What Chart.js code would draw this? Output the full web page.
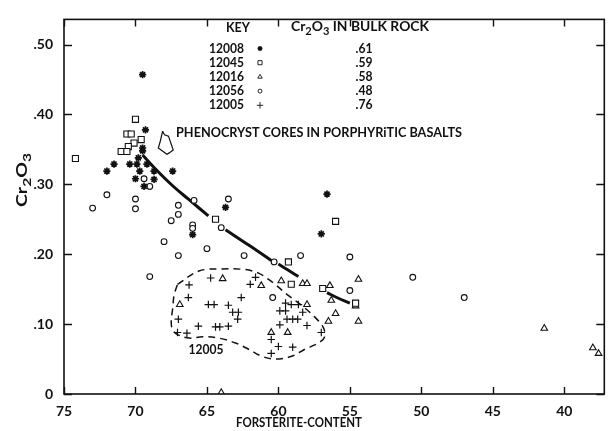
<!DOCTYPE html>
<html>
<head>
<meta charset="utf-8">
<script src="https://cdn.jsdelivr.net/npm/chart.js@4/dist/chart.umd.min.js"></script>
<style>
  html, body { margin: 0; padding: 0; background: #fff; }
  #wrap { width: 610px; height: 431px; }
</style>
</head>
<body>
<div id="wrap"><canvas id="olivine"></canvas></div>
<script>
/* Cr2O3 in olivine vs forsterite content, Apollo 12 basalts.
   Values. */

const xTickValues = [75, 70, 65, 60, 55, 50, 45, 40];
const yTickValues = [0, 0.1, 0.2, 0.3, 0.4, 0.5];

const samples = ['12008', '12045', '12016', '12056', '12005'];
const bulkCr2O3 = ['.61', '.59', '.58', '.48', '.76'];

// 12008 (stars)
const fo12008 = [69.5, 69.3, 69.5, 69.5, 69.8, 71.5, 70.4, 69.9, 69.2, 72.0, 69.7, 68.7, 67.4, 70.0, 68.7, 69.4, 56.6, 63.7, 57.0, 66.0];
const cr12008 = [.457, .378, .352, .348, .338, .329, .329, .329, .329, .319, .319, .319, .319, .308, .307, .297, .286, .267, .229, .228];

// 12045 (squares)
const fo12045 = [70.0, 70.6, 70.3, 69.6, 70.1, 70.5, 71.0, 70.6, 74.2, 64.4, 56.0, 59.3, 59.1, 56.9, 54.6];
const cr12045 = [.393, .372, .372, .364, .359, .354, .347, .347, .337, .250, .247, .189, .157, .151, .130];

// 12016 (triangles)
const fo12016 = [63.9, 61.2, 59.8, 58.3, 58.0, 56.4, 54.4, 56.3, 54.6, 56.0, 56.5, 54.4, 66.9, 60.5, 59.35, 58.0, 64.0, 41.4, 38.0, 37.6];
const cr12016 = [.165, .155, .162, .158, .158, .155, .164, .134, .126, .115, .104, .104, .128, .088, .088, .128, .002, .094, .066, .058];

// 12056 (circles)
const fo12056 = [69.4, 69.0, 72.0, 73.0, 70.0, 70.0, 65.9, 63.5, 67.0, 67.0, 67.5, 66.0, 66.0, 64.0, 68.0, 65.0, 67.0, 62.4, 69.0, 60.3, 58.45, 55.0, 55.0, 50.6, 47.0, 60.4];
const cr12056 = [.308, .297, .285, .266, .279, .265, .277, .279, .270, .257, .248, .242, .237, .238, .218, .208, .198, .198, .168, .189, .198, .196, .148, .167, .138, .138];

// 12005 (crosses)
const fo12005 = [64.74, 66.25, 61.97, 61.6, 66.3, 64.9, 64.5, 63.5, 62.6, 63.2, 62.8, 62.85, 67.0, 65.6, 64.4, 64.1, 63.5, 67.06, 66.4,
                 59.5, 59.1, 58.6, 59.9, 59.5, 58.3, 59.4, 59.0, 58.65, 59.9, 58.0, 57.0, 60.5, 60.0, 59.0, 60.5];
const cr12005 = [.166, .156, .157, .167, .138, .128, .128, .127, .138, .117, .117, .107, .107, .097, .096, .096, .097, .088, .087,
                 .130, .128, .128, .119, .119, .117, .107, .107, .107, .099, .098, .088, .078, .068, .067, .058];

// heavy trend line (null = break in the drawn line)
const trendFo = [69.5, 68.6, 67.4, 66.25, 64.9, 64.3, 63.7, 62.0, 60.5, 60.3, 60.0, 59.3, 58.6, 57.6, 56.6, 55.8, 55.0];
const trendCr = [.342, .322, .298, .278, .255, null, .235, .212, .191, null, .186, .177, .168, null, .145, .137, .130];

// dashed outline round the 12005 field
const fieldFo = [67.06, 65.56, 63.94, 62.31, 61.39, 60.69, 60.12, 59.31, 58.38, 57.45, 56.88, 56.76, 57.2, 58.15, 59.07, 60.23,
                 61.16, 62.08, 63.0, 64.17, 65.3, 66.25, 67.06, 67.4, 67.5, 67.4, 67.3, 67.06];
const fieldCr = [.157, .176, .179, .178, .173, .164, .155, .141, .127, .110, .096, .082, .073, .064, .054, .050,
                 .054, .064, .073, .080, .082, .080, .085, .092, .103, .122, .141, .157];

// hollow arrow next to the phenocryst note
const arrowFo = [68.10, 67.97, 67.69, 67.36, 67.64, 67.80, 68.40, 68.26, 68.10];
const arrowCr = [.376, .371, .369, .349, .345, .343, .352, .362, .376];

const FONT = 'Lato, "Liberation Sans", sans-serif';

const pts = (xs, ys) => xs.map((x, i) => ({ x, y: ys[i] }));

const markers = [
  { pointStyle: 'star', radius: 3.6, borderWidth: 1.7 },
  { pointStyle: 'rect', radius: 4.3, borderWidth: 1.1 },
  { pointStyle: 'triangle', radius: 3.8, borderWidth: 1.1 },
  { pointStyle: 'circle', radius: 2.9, borderWidth: 1.1 },
  { pointStyle: 'cross', radius: 3.8, borderWidth: 1.2 },
];
const seriesFo = [fo12008, fo12045, fo12016, fo12056, fo12005];
const seriesCr = [cr12008, cr12045, cr12016, cr12056, cr12005];

const scatterSets = samples.map((name, i) => ({
  type: 'scatter',
  label: name,
  data: pts(seriesFo[i], seriesCr[i]),
  pointStyle: markers[i].pointStyle,
  pointRadius: markers[i].radius,
  pointBorderWidth: markers[i].borderWidth,
  pointBorderColor: '#111',
  pointBackgroundColor: '#fff',
  order: 1,
}));

const lineSet = (data, width, dash, tension) => ({
  type: 'line',
  data,
  borderColor: '#111',
  borderWidth: width,
  borderDash: dash,
  pointRadius: 0,
  fill: false,
  tension,
  spanGaps: false,
  order: 5,
});

// bold text stretched horizontally to the width it has in the scan
function fillFit(ctx, text, x, y, width, size, align) {
  ctx.font = `bold ${size}px ${FONT}`;
  const w = ctx.measureText(text).width;
  const sx = width / w;
  const left = align === 'center' ? x - width / 2 : align === 'right' ? x - width : x;
  ctx.save();
  ctx.translate(left, y);
  ctx.scale(sx, 1);
  ctx.textAlign = 'left';
  ctx.textBaseline = 'middle';
  ctx.fillText(text, 0, 0);
  ctx.restore();
}

// text with subscripts, parts = [[text, isSub], ...], stretched to width
function chem(ctx, parts, size, x0, y0, width, align) {
  const sub = size * 0.8;
  let w = 0;
  parts.forEach(([t, s]) => {
    ctx.font = `bold ${s ? sub : size}px ${FONT}`;
    w += ctx.measureText(t).width;
  });
  const sx = width / w;
  ctx.save();
  ctx.translate(align === 'center' ? x0 - width / 2 : x0, y0);
  ctx.scale(sx, 1);
  ctx.textAlign = 'left';
  ctx.textBaseline = 'middle';
  let cx = 0;
  parts.forEach(([t, s]) => {
    ctx.font = `bold ${s ? sub : size}px ${FONT}`;
    ctx.fillText(t, cx, s ? size * 0.32 : 0);
    cx += ctx.measureText(t).width;
  });
  ctx.restore();
}

// draws the frame, inward ticks, key and notes
const decorations = {
  id: 'decorations',
  afterDraw(chart) {
    const { ctx, chartArea: a, scales: { x, y } } = chart;
    ctx.save();
    ctx.strokeStyle = '#111';
    ctx.fillStyle = '#111';
    ctx.lineWidth = 1.6;
    ctx.strokeRect(a.left, a.top, a.right - a.left, a.bottom - a.top);

    ctx.lineWidth = 1.4;
    ctx.beginPath();
    xTickValues.forEach(v => {
      const px = Math.round(x.getPixelForValue(v)) + 0.5;
      ctx.moveTo(px, a.bottom); ctx.lineTo(px, a.bottom - 7);
      ctx.moveTo(px, a.top); ctx.lineTo(px, a.top + 7);
    });
    yTickValues.forEach(v => {
      const py = Math.round(y.getPixelForValue(v)) + 0.5;
      ctx.moveTo(a.left, py); ctx.lineTo(a.left + 8, py);
      ctx.moveTo(a.right, py); ctx.lineTo(a.right - 8, py);
    });
    ctx.stroke();

    // y-axis title
    ctx.save();
    ctx.translate(22, 180);
    ctx.rotate(-Math.PI / 2);
    chem(ctx, [['Cr', 0], ['2', 1], ['O', 0], ['3', 1]], 15, 0, 0, 54, 'center');
    ctx.restore();

    // x-axis title
    fillFit(ctx, 'FORSTERITE-CONTENT', 362, 422, 126, 14, 'right');

    // key
    fillFit(ctx, 'KEY', 238, 28, 24, 13, 'center');
    chem(ctx, [['Cr', 0], ['2', 1], ['O', 0], ['3', 1], [' IN BULK ROCK', 0]], 13, 291, 27, 138, 'left');
    samples.forEach((name, i) => {
      const ry = 48.5 + i * 14.2;
      fillFit(ctx, name, 209, ry, 35, 13, 'left');
      fillFit(ctx, bulkCr2O3[i], 364, ry, 17, 13, 'center');
      const m = markers[i];
      ctx.lineWidth = i === 0 ? 1.3 : 0.9;
      ctx.fillStyle = '#fff';
      if (Chart.helpers && Chart.helpers.drawPoint) {
        Chart.helpers.drawPoint(ctx, {
          pointStyle: m.pointStyle,
          radius: i === 4 ? 3.2 : m.radius * 0.68,
          borderWidth: ctx.lineWidth,
          rotation: 0,
        }, 260, ry);
      }
      ctx.fillStyle = '#111';
    });

    // notes
    fillFit(ctx, 'PHENOCRYST CORES IN PORPHYRiTIC BASALTS', 176, 133, 286, 13, 'left');
    fillFit(ctx, '12005', 206, 350, 35, 13, 'center');
    ctx.restore();
  },
};

new Chart(document.getElementById('olivine'), {
  type: 'scatter',
  data: {
    datasets: [
      ...scatterSets,
      lineSet(pts(trendFo, trendCr), 3, [], 0.4),
      lineSet(pts(fieldFo, fieldCr), 1.5, [7, 5], 0.35),
      lineSet(pts(arrowFo, arrowCr), 1.2, [], 0),
    ],
  },
  options: {
    responsive: true,
    maintainAspectRatio: false,
    animation: false,
    layout: { padding: { top: 10, right: 2, left: 0, bottom: 0 } },
    plugins: { legend: { display: false }, tooltip: { enabled: false } },
    scales: {
      x: {
        type: 'linear',
        reverse: true,
        min: 37.2,
        max: 75,
        afterBuildTicks: s => { s.ticks = xTickValues.map(value => ({ value })); },
        afterFit: s => { s.height = 37; },
        grid: { display: false, drawTicks: false },
        border: { display: false },
        ticks: {
          padding: 9,
          color: '#111',
          font: { family: FONT, size: 14, weight: 'bold' },
          maxRotation: 0,
        },
      },
      y: {
        type: 'linear',
        min: 0,
        max: 0.536,
        afterBuildTicks: s => { s.ticks = yTickValues.map(value => ({ value })); },
        afterFit: s => { s.width = 64; },
        grid: { display: false, drawTicks: false },
        border: { display: false },
        ticks: {
          padding: 11,
          color: '#111',
          font: { family: FONT, size: 14, weight: 'bold' },
          callback: v => (v === 0 ? '0' : v.toFixed(2).replace(/^0/, '')),
        },
      },
    },
  },
  plugins: [decorations],
});
</script>
</body>
</html>
